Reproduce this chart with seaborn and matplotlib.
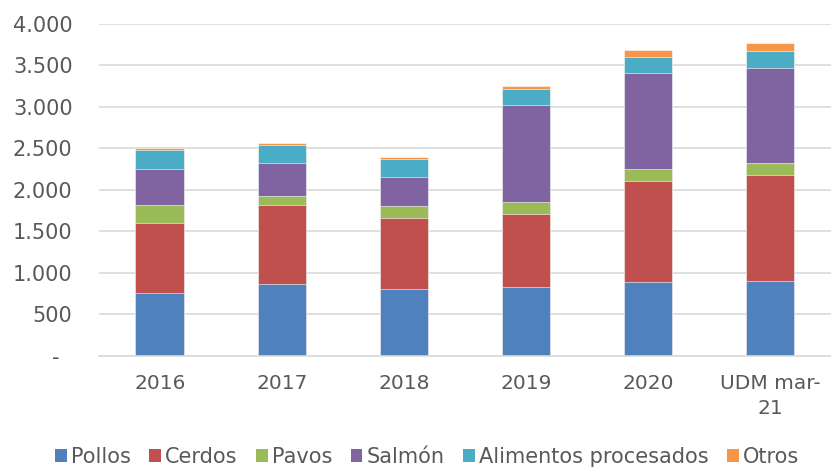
import pandas as pd
import matplotlib.pyplot as plt
import seaborn as sns
from matplotlib.ticker import FuncFormatter
from matplotlib.patches import Patch

years = ['2016', '2017', '2018', '2019', '2020', 'UDM mar-\n21']
series = ['Pollos', 'Cerdos', 'Pavos', 'Salmón', 'Alimentos procesados', 'Otros']
pollos = [755, 860, 805, 830, 890, 898]
cerdos = [845, 955, 850, 880, 1215, 1280]
pavos = [220, 113, 153, 141, 144, 145]
salmon = [430, 394, 351, 1176, 1160, 1147]
alimentos = [230, 222, 212, 193, 186, 206]
otros = [20, 16, 21, 28, 92, 89]
colors = ['#4F81BD', '#C0504D', '#9BBB59', '#8064A2', '#4BACC6', '#F79646']

df = pd.DataFrame({'Año': years, 'Pollos': pollos, 'Cerdos': cerdos, 'Pavos': pavos,
                   'Salmón': salmon, 'Alimentos procesados': alimentos, 'Otros': otros})
cum = df[series].cumsum(axis=1)
cum['Año'] = years

sns.set_theme(style="white")
plt.rcParams['font.family'] = ['DejaVu Sans']

fig, ax = plt.subplots(figsize=(8.31, 4.67), dpi=100)
fig.subplots_adjust(left=0.119, right=1.0, top=0.949, bottom=0.238)

# stacked bars: draw cumulative totals from the top series down
for name, col in reversed(list(zip(series, colors))):
    sns.barplot(data=cum, x='Año', y=name, color=col, width=0.4, ax=ax,
                edgecolor='#ffffff', linewidth=0.4, saturation=1)

ax.set_ylim(0, 4000)
ax.set_yticks(range(0, 4001, 500))
ax.yaxis.set_major_formatter(FuncFormatter(
    lambda v, p: '-  ' if v == 0 else f'{int(v):,}'.replace(',', '.')))
ax.grid(axis='y', color='#d9d9d9', linewidth=1.2)
ax.set_axisbelow(True)
for s in ['left', 'right', 'top']:
    ax.spines[s].set_visible(False)
ax.spines['bottom'].set_color('#d9d9d9')
ax.spines['bottom'].set_linewidth(1.2)
ax.set_xlabel('')
ax.set_ylabel('')
ax.tick_params(axis='y', length=0, pad=19, labelsize=15, labelcolor='#595959')
ax.tick_params(axis='x', length=0, pad=13, labelsize=14.5, labelcolor='#595959')
for t in ax.get_xticklabels():
    t.set_linespacing(1.4)

handles = [Patch(facecolor=c, edgecolor='none', label=s) for s, c in zip(series, colors)]
fig.legend(handles=handles, loc='center', bbox_to_anchor=(0.514, 0.022), ncol=6,
           frameon=False, fontsize=15, handlelength=0.55, handleheight=0.55,
           handletextpad=0.2, columnspacing=0.9, labelcolor='#595959')

plt.savefig('out.png', dpi=100)
